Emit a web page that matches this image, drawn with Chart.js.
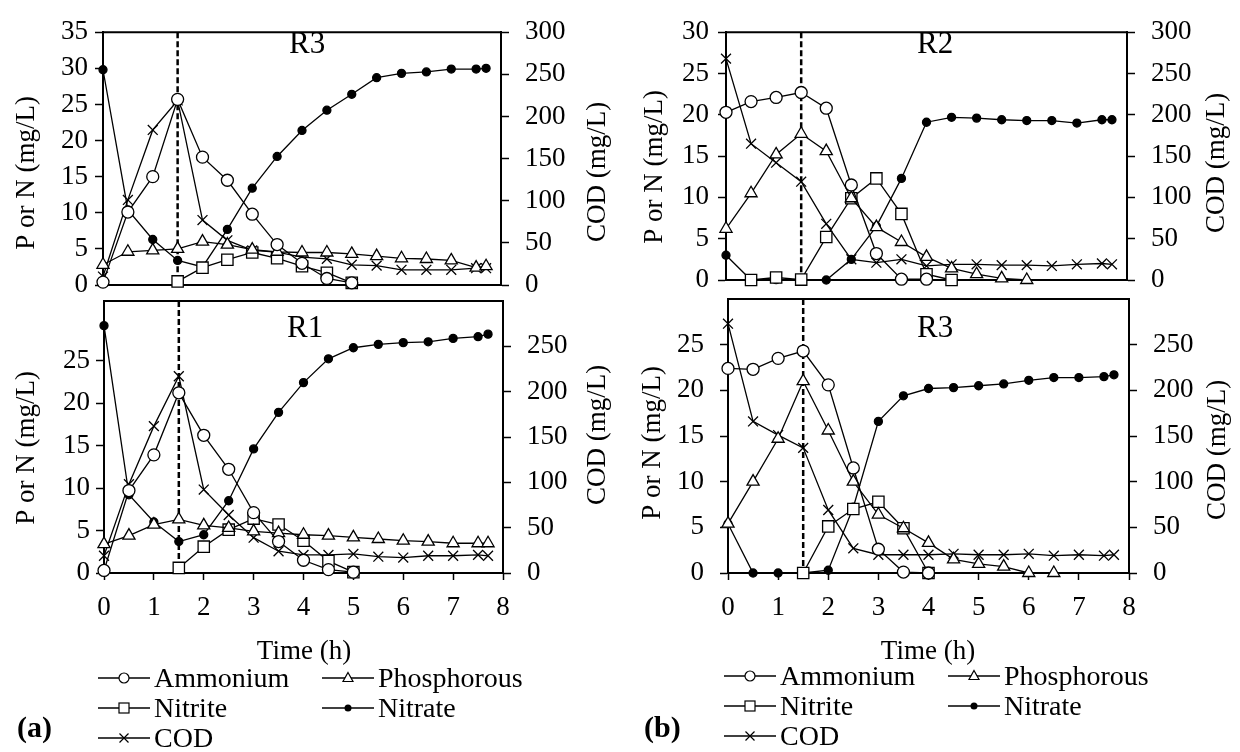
<!DOCTYPE html>
<html>
<head>
<meta charset="utf-8">
<script src="https://cdn.jsdelivr.net/npm/chart.js@4.4.1/dist/chart.umd.min.js"></script>
<style>
  html, body { margin: 0; padding: 0; background: #fff; }
  #page { position: relative; width: 1240px; height: 752px; overflow: hidden;
          font-family: 'Liberation Serif', 'Times New Roman', serif; color: #000; }
  #page canvas { position: absolute; left: 0; top: 0; }
  .item { position: absolute; display: flex; align-items: center; height: 30px;
          font-size: 28px; line-height: 30px; white-space: nowrap; }
  .item svg { margin-right: 4px; }
  .tag { position: absolute; font-size: 30px; font-weight: bold; line-height: 30px; }
</style>
</head>
<body>
<div id="page">
  <canvas id="cA1" width="1240" height="752"></canvas>
  <canvas id="cA2" width="1240" height="752"></canvas>
  <canvas id="cB1" width="1240" height="752"></canvas>
  <canvas id="cB2" width="1240" height="752"></canvas>
  <div class="tag" style="left:17px; top:712px;">(a)</div>
  <div class="tag" style="left:644px; top:712px;">(b)</div>
</div>
<script>
// sampling times (h); the last two samples are 7.5 h and ~7.7 h
const hours = [0, 0.5, 1, 1.5, 2, 2.5, 3, 3.5, 4, 4.5, 5, 5.5, 6, 6.5, 7, 7.5, 7.7];
const switchHour = 1.5;

// (a) reactor R3 - P or N in mg/L, COD in mg/L
const aR3Ammonium    = [0.4, 10.1, 15.0, 25.7, 17.7, 14.5, 9.8, 5.6, 3.0, 0.9, 0.3, null, null, null, null, null, null];
const aR3Phosphorous = [2.8, 4.6, 4.8, 5.0, 6.0, 5.6, 4.9, 4.6, 4.5, 4.5, 4.3, 4.0, 3.7, 3.6, 3.4, 2.4, 2.6];
const aR3Nitrite     = [null, null, null, 0.5, 2.4, 3.5, 4.5, 3.7, 2.6, 1.7, 0.3, null, null, null, null, null, null];
const aR3Nitrate     = [29.8, 10.4, 6.3, 3.4, 2.5, 7.7, 13.4, 17.8, 21.4, 24.2, 26.4, 28.7, 29.3, 29.5, 29.9, 29.9, 30.0];
const aR3Cod         = [10, 101, 184, 219, 77, 53, 41, 39, 33, 31, 24, 23, 18, 18, 18, 20, 20];

// (a) reactor R1
const aR1Ammonium    = [0.3, 9.7, 13.9, 21.2, 16.2, 12.2, 7.1, 3.7, 1.5, 0.4, 0.1, null, null, null, null, null, null];
const aR1Phosphorous = [3.4, 4.4, 5.7, 6.3, 5.6, 5.3, 4.9, 4.7, 4.5, 4.4, 4.2, 4.0, 3.8, 3.7, 3.5, 3.5, 3.5];
const aR1Nitrite     = [null, null, null, 0.6, 3.1, 5.1, 6.4, 5.7, 3.8, 1.4, 0.1, null, null, null, null, null, null];
const aR1Nitrate     = [29.1, 9.2, 6.0, 3.7, 4.5, 8.5, 14.6, 18.9, 22.4, 25.2, 26.5, 26.9, 27.1, 27.2, 27.6, 27.8, 28.1];
const aR1Cod         = [19, 98, 162, 217, 92, 64, 39, 24, 20, 20, 21, 18, 17, 19, 19, 20, 19];

// (b) reactor R2
const bR2Ammonium    = [20.3, 21.6, 22.1, 22.7, 20.8, 11.5, 3.2, 0.1, 0.1, null, null, null, null, null, null, null, null];
const bR2Phosphorous = [6.2, 10.5, 15.2, 17.7, 15.6, 9.9, 6.4, 4.6, 2.8, 1.4, 0.7, 0.2, 0, null, null, null, null];
const bR2Nitrite     = [null, 0, 0.3, 0.05, 5.2, 9.9, 12.3, 8.0, 0.7, 0, null, null, null, null, null, null, null];
const bR2Nitrate     = [3.0, 0, 0.05, 0, 0, 2.5, 6.5, 12.3, 19.1, 19.7, 19.6, 19.4, 19.3, 19.3, 19.0, 19.4, 19.4];
const bR2Cod         = [268, 165, 142, 119, 68, 25, 21, 25, 17, 19, 19, 18, 18, 17, 19, 20, 19];

// (b) reactor R3
const bR3Ammonium    = [22.4, 22.3, 23.5, 24.3, 20.6, 11.5, 2.6, 0.1, 0, null, null, null, null, null, null, null, null];
const bR3Phosphorous = [5.4, 10.0, 14.7, 21.0, 15.6, 10.0, 6.4, 4.9, 3.3, 1.5, 1.0, 0.7, 0, 0, null, null, null];
const bR3Nitrite     = [null, null, null, 0, 5.1, 7.0, 7.8, 4.9, 0, null, null, null, null, null, null, null, null];
const bR3Nitrate     = [5.4, 0, 0, 0, 0.3, 7.2, 16.6, 19.4, 20.2, 20.3, 20.5, 20.7, 21.1, 21.4, 21.4, 21.5, 21.7];
const bR3Cod         = [273, 166, 151, 137, 69, 27, 20, 20, 20, 21, 20, 20, 21, 19, 20, 19, 20];

const FONT = "'Liberation Serif', 'Times New Roman', serif";

// marker look of each series, in dataset order
const seriesStyles = [
  { label: 'Ammonium',    pointStyle: 'circle',   pointRadius: 6, bg: '#fff', axis: 'y'  },
  { label: 'Phosphorous', pointStyle: 'triangle', pointRadius: 7, bg: '#fff', axis: 'y'  },
  { label: 'Nitrite',     pointStyle: 'rect',     pointRadius: 8, bg: '#fff', axis: 'y'  },
  { label: 'Nitrate',     pointStyle: 'circle',   pointRadius: 4, bg: '#000', axis: 'y'  },
  { label: 'COD',         pointStyle: 'crossRot', pointRadius: 7, bg: '#000', axis: 'y2' }
];

const panels = [
  { canvas: 'cA1', tag: 'R3', leftMax: 35, leftTop: 35, rightTop: 300,
    area: { left: 103, right: 501, top: 18, bottom: 285 }, showX: false, leftPad: 7,
    leftTitle: [27, 173], rightTitle: [598, 172], tagPos: [289, 45],
    series: [aR3Ammonium, aR3Phosphorous, aR3Nitrite, aR3Nitrate, aR3Cod] },
  { canvas: 'cA2', tag: 'R1', leftMax: 32, leftTop: 30, rightTop: 250,
    area: { left: 104, right: 503, top: 301, bottom: 573 }, showX: true, leftPad: 6,
    leftTitle: [27, 448], rightTitle: [598, 435], tagPos: [287, 329], timeTitle: [304, 652],
    series: [aR1Ammonium, aR1Phosphorous, aR1Nitrite, aR1Nitrate, aR1Cod] },
  { canvas: 'cB1', tag: 'R2', leftMax: 30, leftTop: 30, rightTop: 300,
    area: { left: 726, right: 1127, top: 17, bottom: 280 }, showX: false, leftPad: 9,
    leftTitle: [655, 167], rightTitle: [1217, 163], tagPos: [917, 45],
    series: [bR2Ammonium, bR2Phosphorous, bR2Nitrite, bR2Nitrate, bR2Cod] },
  { canvas: 'cB2', tag: 'R3', leftMax: 30, leftTop: 25, rightTop: 250,
    area: { left: 728, right: 1129, top: 299, bottom: 573 }, showX: true, leftPad: 16,
    leftTitle: [653, 443], rightTitle: [1218, 450], tagPos: [917, 329], timeTitle: [928, 652],
    series: [bR3Ammonium, bR3Phosphorous, bR3Nitrite, bR3Nitrate, bR3Cod] }
];

// plot frame top edge, dashed phase line, reactor tag and axis titles
const panelDecor = {
  id: 'panelDecor',
  beforeDatasetsDraw(chart, args, o) {
    const { ctx, chartArea: a, scales } = chart;
    ctx.save();
    ctx.strokeStyle = '#000';
    ctx.lineWidth = 2;
    ctx.beginPath();
    ctx.moveTo(a.left - 1, a.top);
    ctx.lineTo(a.right + 1, a.top);
    ctx.stroke();
    const xd = scales.x.getPixelForValue(switchHour);
    ctx.lineWidth = 2.5;
    ctx.setLineDash([6, 3]);
    ctx.beginPath();
    ctx.moveTo(xd, a.top);
    ctx.lineTo(xd, a.bottom);
    ctx.stroke();
    ctx.restore();
  },
  afterDraw(chart, args, o) {
    const { ctx } = chart;
    ctx.save();
    ctx.fillStyle = '#000';
    ctx.textBaseline = 'middle';
    ctx.textAlign = 'left';
    ctx.font = `31px ${FONT}`;
    ctx.fillText(o.tag, o.tagPos[0], o.tagPos[1]);

    ctx.font = `27px ${FONT}`;
    ctx.textAlign = 'center';
    [[o.leftTitle, 'P or N (mg/L)'], [o.rightTitle, 'COD (mg/L)']].forEach(([p, text]) => {
      ctx.save();
      ctx.translate(p[0], p[1]);
      ctx.rotate(-Math.PI / 2);
      ctx.fillText(text, 0, 0);
      ctx.restore();
    });
    if (o.timeTitle) ctx.fillText('Time (h)', o.timeTitle[0], o.timeTitle[1]);
    ctx.restore();
  }
};

// fixed axis box sizes so each plot area lands where it should
const W_LEFT = 80, W_RIGHT = 90, H_X = 60;
const tickFont = { family: FONT, size: 27, lineHeight: 1.2 };

function makePanel(p) {
  const datasets = p.series.map((values, i) => {
    const s = seriesStyles[i];
    return {
      label: s.label,
      data: hours.map((h, k) => ({ x: h, y: values[k] })).filter(pt => pt.y !== null),
      yAxisID: s.axis,
      borderColor: '#000',
      borderWidth: 1.3,
      pointStyle: s.pointStyle,
      pointRadius: s.pointRadius,
      pointBackgroundColor: s.bg,
      pointBorderColor: '#000',
      pointBorderWidth: 1.3,
      tension: 0,
      clip: false
    };
  });

  const a = p.area;
  new Chart(document.getElementById(p.canvas), {
    type: 'line',
    data: { datasets },
    options: {
      responsive: false,
      animation: false,
      devicePixelRatio: 1,
      events: [],
      layout: {
        padding: {
          left: a.left - W_LEFT,
          right: 1240 - a.right - W_RIGHT,
          top: a.top,
          bottom: 752 - a.bottom - H_X
        }
      },
      plugins: {
        legend: { display: false },
        tooltip: { enabled: false },
        panelDecor: p
      },
      scales: {
        x: {
          type: 'linear', position: 'bottom', min: 0, max: 8,
          ticks: { stepSize: 1, display: p.showX, color: '#000', font: tickFont, padding: 12, maxRotation: 0 },
          grid: { display: true, drawOnChartArea: false, drawTicks: p.showX, tickLength: 7,
                  tickWidth: 1.5, tickColor: '#000', color: '#000' },
          border: { display: true, color: '#000', width: 2 },
          afterFit: s => { s.height = H_X; }
        },
        y: {
          position: 'left', min: 0, max: p.leftMax,
          ticks: { stepSize: 5, color: '#000', font: tickFont, padding: p.leftPad },
          grid: { display: true, drawOnChartArea: false, tickLength: 8, tickWidth: 1.5,
                  tickColor: '#000', color: '#000' },
          border: { display: true, color: '#000', width: 2 },
          afterBuildTicks: s => { s.ticks = s.ticks.filter(t => t.value % 5 === 0 && t.value <= p.leftTop); },
          afterFit: s => { s.width = W_LEFT; }
        },
        y2: {
          position: 'right', min: 0, max: 300,
          ticks: { stepSize: 50, color: '#000', font: tickFont, padding: 16 },
          grid: { display: true, drawOnChartArea: false, tickLength: 8, tickWidth: 1.5,
                  tickColor: '#000', color: '#000' },
          border: { display: true, color: '#000', width: 2 },
          afterBuildTicks: s => { s.ticks = s.ticks.filter(t => t.value <= p.rightTop); },
          afterFit: s => { s.width = W_RIGHT; }
        }
      }
    },
    plugins: [panelDecor]
  });
}

panels.forEach(makePanel);

// legend blocks under each half
function markerSvg(style) {
  const line = '<line x1="0" y1="15" x2="52" y2="15" stroke="#000" stroke-width="1.3"/>';
  let m = '';
  if (style.label === 'Ammonium') m = '<circle cx="26" cy="15" r="5" fill="#fff" stroke="#000" stroke-width="1.2"/>';
  if (style.label === 'Phosphorous') m = '<polygon points="26,9.5 31,18.5 21,18.5" fill="#fff" stroke="#000" stroke-width="1.2"/>';
  if (style.label === 'Nitrite') m = '<rect x="21" y="10" width="10" height="10" fill="#fff" stroke="#000" stroke-width="1.2"/>';
  if (style.label === 'Nitrate') m = '<circle cx="26" cy="15" r="3.5" fill="#000"/>';
  if (style.label === 'COD') m = '<path d="M21.5 10.5 L30.5 19.5 M30.5 10.5 L21.5 19.5" stroke="#000" stroke-width="1.2"/>';
  return `<svg width="52" height="30" viewBox="0 0 52 30">${line}${m}</svg>`;
}

const legendSlots = [[0, 0], [224, 0], [0, 30], [224, 30], [0, 60]];
[[98, 663], [724, 661]].forEach(([ox, oy]) => {
  seriesStyles.forEach((s, i) => {
    const el = document.createElement('div');
    el.className = 'item';
    el.style.left = (ox + legendSlots[i][0]) + 'px';
    el.style.top = (oy + legendSlots[i][1]) + 'px';
    el.innerHTML = markerSvg(s) + '<span>' + s.label + '</span>';
    document.getElementById('page').appendChild(el);
  });
});
</script>
</body>
</html>
